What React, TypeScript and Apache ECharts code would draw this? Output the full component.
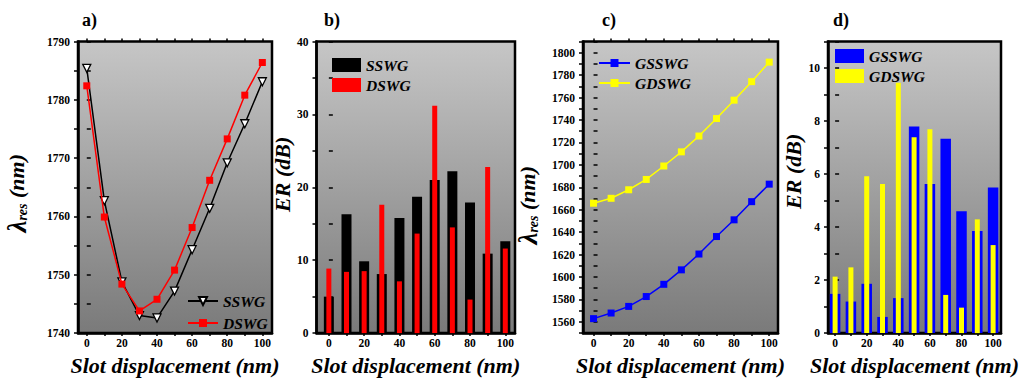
import React, { useEffect, useRef } from "react";
import * as echarts from "echarts";

const xVals = [0, 10, 20, 30, 40, 50, 60, 70, 80, 90, 100];
const xTickVals = [0, 10, 20, 30, 40, 50, 60, 70, 80, 90, 100];
const xLabelVals = [0, 20, 40, 60, 80, 100];

// panel a: resonance wavelength (nm)
const aSSWG = [1785.4, 1762.7, 1748.8, 1743.0, 1742.6, 1747.2, 1754.3, 1761.4, 1769.2, 1775.9, 1783.1];
const aDSWG = [1782.4, 1759.9, 1748.4, 1743.8, 1745.8, 1750.8, 1758.1, 1766.2, 1773.3, 1780.8, 1786.4];
const aYLabels = [1740, 1750, 1760, 1770, 1780, 1790];
const aYTicks = [1740, 1745, 1750, 1755, 1760, 1765, 1770, 1775, 1780, 1785, 1790];

// panel b: ER (dB)
const bSSWG = [5.0, 16.3, 9.85, 8.1, 15.8, 18.7, 21.0, 22.2, 17.9, 10.9, 12.6];
const bDSWG = [8.85, 8.4, 8.5, 17.6, 7.1, 13.65, 31.2, 14.5, 4.6, 22.8, 11.6];
const bYLabels = [0, 10, 20, 30, 40];
const bYTicks = [0, 5, 10, 15, 20, 25, 30, 35, 40];

// panel c: resonance wavelength (nm)
const cGSSWG = [1562.9, 1567.9, 1573.8, 1582.6, 1593.5, 1606.4, 1620.5, 1636.1, 1651.0, 1667.2, 1682.8];
const cGDSWG = [1665.8, 1670.2, 1677.8, 1687.0, 1699.0, 1711.6, 1725.7, 1741.3, 1757.7, 1774.2, 1791.6];
const cYLabels = [1560, 1580, 1600, 1620, 1640, 1660, 1680, 1700, 1720, 1740, 1760, 1780, 1800];
const cYTicks = [1550, 1560, 1570, 1580, 1590, 1600, 1610, 1620, 1630, 1640, 1650, 1660, 1670, 1680, 1690, 1700, 1710, 1720, 1730, 1740, 1750, 1760, 1770, 1780, 1790, 1800, 1810];

// panel d: ER (dB)
const dGSSWG = [1.48, 1.19, 1.86, 0.61, 1.32, 7.79, 5.62, 7.33, 4.6, 3.85, 5.49];
const dGDSWG = [2.13, 2.48, 5.92, 5.62, 9.44, 7.39, 7.69, 1.44, 0.96, 4.29, 3.32];
const dYLabels = [0, 2, 4, 6, 8, 10];
const dYTicks = [0, 1, 2, 3, 4, 5, 6, 7, 8, 9, 10, 11];

const FONT = "Liberation Serif";

const pairs = (ys: number[]) => xVals.map((x, i) => [x, ys[i]]);

export default function App() {
  const ref = useRef<HTMLDivElement>(null);
  useEffect(() => {
    if (!ref.current) return;
    const chart = echarts.init(ref.current, null, { renderer: "svg" });

    const bg = new echarts.graphic.LinearGradient(0, 0, 0, 1, [
      { offset: 0, color: "#c6c6c6" },
      { offset: 1, color: "#7a7a7a" },
    ]);

    const grids = [
      { left: 78, top: 41.5, width: 194, height: 294.5 },
      { left: 316.5, top: 41.5, width: 198.5, height: 294.5 },
      { left: 583, top: 41.5, width: 195, height: 294.5 },
      { left: 828, top: 41.5, width: 192, height: 294.5 },
    ].map((g) => ({
      ...g,
      show: true,
      borderColor: "#000",
      borderWidth: 2.5,
      backgroundColor: bg,
      containLabel: false,
    }));

    const xRanges = [
      [-5, 105.5],
      [-7, 105.5],
      [-6, 105],
      [-4.5, 105],
    ];

    const plain = (v: number) => String(v);

    const labelStyle = {
      fontFamily: FONT,
      fontWeight: "bold" as const,
      fontSize: 11.5,
      color: "#000",
    };
    const titleStyle = {
      fontFamily: FONT,
      fontWeight: "bold" as const,
      fontStyle: "italic" as const,
      fontSize: 22,
      color: "#000",
    };

    const xAxes: any[] = [];
    const xMain: number[] = [];
    const xAlt: number[] = [];
    xRanges.forEach((r, gi) => {
      xMain.push(xAxes.length);
      xAxes.push({
        type: "value",
        gridIndex: gi,
        min: r[0],
        max: r[1],
        position: "bottom",
        axisLine: { show: true, onZero: false, lineStyle: { color: "#000", width: 2.5 } },
        axisTick: { show: true, customValues: xTickVals, length: 3, lineStyle: { color: "#000", width: 1.5 } },
        axisLabel: { ...labelStyle, customValues: xLabelVals, margin: 4, formatter: plain },
        splitLine: { show: false },
        name: "Slot displacement (nm)",
        nameLocation: "middle",
        nameGap: 8,
        nameTextStyle: titleStyle,
      });
      xAxes.push({
        type: "value",
        gridIndex: gi,
        min: r[0],
        max: r[1],
        position: "top",
        axisLine: { show: false },
        axisTick: { show: true, customValues: xTickVals, length: 3, lineStyle: { color: "#000", width: 1.5 } },
        axisLabel: { show: false },
        splitLine: { show: false },
      });
      xAlt.push(xAxes.length);
      xAxes.push({
        type: "value",
        gridIndex: gi,
        min: r[0],
        max: r[1],
        show: false,
        splitLine: { show: false },
      });
    });

    const lamRich = {
      l: { fontFamily: FONT, fontWeight: "bold", fontStyle: "italic", fontSize: 27, color: "#000" },
      s: { fontFamily: FONT, fontWeight: "bold", fontStyle: "italic", fontSize: 14, color: "#000", padding: [12, 0, 0, 0] },
      n: { fontFamily: FONT, fontWeight: "bold", fontStyle: "italic", fontSize: 22, color: "#000" },
    };

    const yDefs = [
      { min: 1740, max: 1790, labels: aYLabels, ticks: aYTicks, name: "{l|λ}{s|res}{n| (nm)}", lam: true, gap: 48, pad: [0, 12, 0, 0] },
      { min: 0, max: 40, labels: bYLabels, ticks: bYTicks, name: "ER (dB)", lam: false, gap: 15, pad: [0, 0, 0, 26] },
      { min: 1550, max: 1810, labels: cYLabels, ticks: cYTicks, name: "{l|λ}{s|res}{n| (nm)}", lam: true, gap: 42, pad: [0, 36, 0, 0] },
      { min: 0, max: 11, labels: dYLabels, ticks: dYTicks, name: "ER (dB)", lam: false, gap: 20, pad: [0, 0, 0, 32] },
    ];

    const yAxes: any[] = [];
    const yMain: number[] = [];
    yDefs.forEach((d, gi) => {
      yMain.push(yAxes.length);
      yAxes.push({
        type: "value",
        gridIndex: gi,
        min: d.min,
        max: d.max,
        position: "left",
        axisLine: { show: true, onZero: false, lineStyle: { color: "#000", width: 2.5 } },
        axisTick: { show: true, customValues: d.ticks, length: 4, lineStyle: { color: "#000", width: 1.5 } },
        axisLabel: { ...labelStyle, customValues: d.labels, margin: 8, formatter: plain },
        splitLine: { show: false },
        name: d.name,
        nameLocation: "middle",
        nameGap: d.gap,
        nameTextStyle: d.lam
          ? { ...titleStyle, rich: lamRich, padding: d.pad }
          : { ...titleStyle, padding: d.pad },
      });
      yAxes.push({
        type: "value",
        gridIndex: gi,
        min: d.min,
        max: d.max,
        position: "right",
        axisLine: { show: false },
        axisTick: { show: true, customValues: d.ticks, length: 4, lineStyle: { color: "#000", width: 1.5 } },
        axisLabel: { show: false },
        splitLine: { show: false },
      });
    });

    const downTri = "path://M0,0L10,0L5,9Z";

    const series: any[] = [
      {
        name: "SSWG",
        type: "line",
        xAxisIndex: xMain[0],
        yAxisIndex: yMain[0],
        data: pairs(aSSWG),
        symbol: downTri,
        symbolSize: [8, 8],
        lineStyle: { color: "#000", width: 1.5 },
        itemStyle: { color: "#fff", borderColor: "#000", borderWidth: 1.3 },
        z: 3,
      },
      {
        name: "DSWG",
        type: "line",
        xAxisIndex: xMain[0],
        yAxisIndex: yMain[0],
        data: pairs(aDSWG),
        symbol: "rect",
        symbolSize: 7,
        lineStyle: { color: "#ff0000", width: 1.5 },
        itemStyle: { color: "#ff0000" },
        z: 4,
      },
      {
        name: "SSWG",
        type: "bar",
        xAxisIndex: xMain[1],
        yAxisIndex: yMain[1],
        data: pairs(bSSWG),
        barWidth: 10,
        itemStyle: { color: "#000" },
      },
      {
        name: "DSWG",
        type: "bar",
        xAxisIndex: xAlt[1],
        yAxisIndex: yMain[1],
        data: pairs(bDSWG),
        barWidth: 5,
        itemStyle: { color: "#ff0000" },
        z: 3,
      },
      {
        name: "GSSWG",
        type: "line",
        xAxisIndex: xMain[2],
        yAxisIndex: yMain[2],
        data: pairs(cGSSWG),
        symbol: "rect",
        symbolSize: 7,
        lineStyle: { color: "#0000ff", width: 1.5 },
        itemStyle: { color: "#0000ff" },
      },
      {
        name: "GDSWG",
        type: "line",
        xAxisIndex: xMain[2],
        yAxisIndex: yMain[2],
        data: pairs(cGDSWG),
        symbol: "rect",
        symbolSize: 7,
        lineStyle: { color: "#ffff00", width: 1.5 },
        itemStyle: { color: "#ffff00" },
      },
      {
        name: "GSSWG",
        type: "bar",
        xAxisIndex: xMain[3],
        yAxisIndex: yMain[3],
        data: pairs(dGSSWG),
        barWidth: 10.5,
        itemStyle: { color: "#0000ff" },
      },
      {
        name: "GDSWG",
        type: "bar",
        xAxisIndex: xAlt[3],
        yAxisIndex: yMain[3],
        data: pairs(dGDSWG),
        barWidth: 5,
        itemStyle: { color: "#ffff00" },
        z: 3,
      },
    ];

    const legendText = {
      fontFamily: FONT,
      fontWeight: "bold" as const,
      fontStyle: "italic" as const,
      fontSize: 15.5,
      color: "#000",
    };

    const legends = [
      {
        left: 182,
        top: 288,
        orient: "vertical",
        itemWidth: 30,
        itemHeight: 10,
        itemGap: 6,
        selectedMode: false,
        textStyle: legendText,
        data: ["SSWG", "DSWG"],
      },
      {
        left: 327,
        top: 52,
        orient: "vertical",
        itemWidth: 29,
        itemHeight: 14,
        itemGap: 4,
        selectedMode: false,
        textStyle: legendText,
        data: [
          { name: "SSWG", icon: "rect", itemStyle: { color: "#000", borderWidth: 0 } },
          { name: "DSWG", icon: "rect", itemStyle: { color: "#ff0000", borderWidth: 0 } },
        ],
      },
      {
        left: 593,
        top: 50,
        orient: "vertical",
        itemWidth: 31,
        itemHeight: 10,
        itemGap: 4,
        selectedMode: false,
        textStyle: legendText,
        data: ["GSSWG", "GDSWG"],
      },
      {
        left: 830,
        top: 43,
        orient: "vertical",
        itemWidth: 29,
        itemHeight: 14,
        itemGap: 4,
        selectedMode: false,
        textStyle: legendText,
        data: [
          { name: "GSSWG", icon: "rect", itemStyle: { color: "#0000ff", borderWidth: 0 } },
          { name: "GDSWG", icon: "rect", itemStyle: { color: "#ffff00", borderWidth: 0 } },
        ],
      },
    ];

    const panelTitle = (text: string, left: number) => ({
      text,
      left,
      top: 11,
      padding: 0,
      textStyle: { fontFamily: FONT, fontWeight: "bold", fontSize: 18, color: "#000" },
    });

    chart.setOption({
      animation: false,
      backgroundColor: "#fff",
      title: [
        panelTitle("a)", 82),
        panelTitle("b)", 324),
        panelTitle("c)", 602),
        panelTitle("d)", 833),
      ],
      legend: legends,
      grid: grids,
      xAxis: xAxes,
      yAxis: yAxes,
      series,
    });

    return () => chart.dispose();
  }, []);

  return (
    <div
      ref={ref}
      style={{ position: "absolute", left: 0, top: 0, width: 1022, height: 381 }}
    />
  );
}
